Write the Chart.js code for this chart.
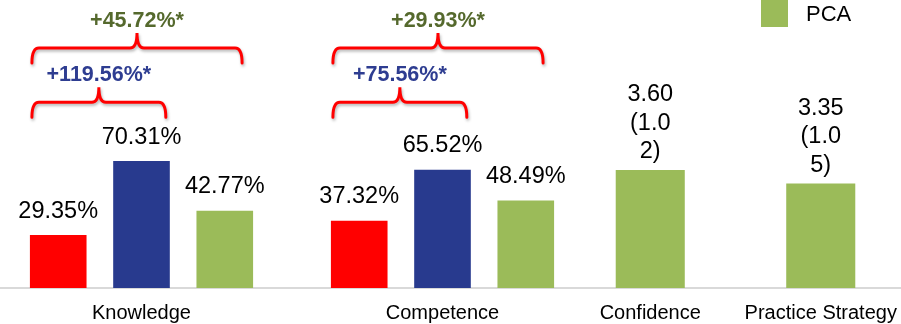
<!DOCTYPE html>
<html>
<head>
<meta charset="utf-8">
<script src="https://cdn.jsdelivr.net/npm/chart.js@4"></script>
<style>
  html, body { margin: 0; padding: 0; background: #fff; }
  #wrap { position: relative; width: 901px; height: 324px; overflow: hidden; }
  #outcomes { position: absolute; left: -9px; top: 0; }
  #likert { position: absolute; left: 565px; top: 0; }
</style>
</head>
<body>
<div id="wrap">
  <canvas id="outcomes" width="602" height="324"></canvas>
  <canvas id="likert" width="341" height="324"></canvas>
</div>
<script>
// percentage outcomes
const outcomeCategories = ['Knowledge', 'Competence'];
const groupAScores = [29.35, 37.32];
const groupBScores = [70.31, 65.52];
const pcaScores = [42.77, 48.49];
const groupBGains = ['+119.56%*', '+75.56%*'];
const pcaGains = ['+45.72%*', '+29.93%*'];

// 5-point scale outcomes, mean (SD)
const likertCategories = ['Confidence', 'Practice Strategy'];
const likertMeans = [3.60, 3.35];
const likertSDs = [1.02, 1.05];

const RED = '#FF0000';
const BLUE = '#283A8E';
const GREEN = '#9BBB59';
const BLUE_TEXT = '#2E3D91';
const GREEN_TEXT = '#55692D';
const FONT = "'Liberation Sans', Arial, sans-serif";

// break a label into lines no wider than maxWidth, splitting words if needed
function wrapText(ctx, text, maxWidth) {
  const lines = [];
  let line = '';
  for (const word of text.split(' ')) {
    const trial = line ? line + ' ' + word : word;
    if (ctx.measureText(trial).width <= maxWidth) {
      line = trial;
      continue;
    }
    if (line) lines.push(line);
    line = '';
    for (const ch of word) {
      if (line && ctx.measureText(line + ch).width > maxWidth) {
        lines.push(line);
        line = '';
      }
      line += ch;
    }
  }
  if (line) lines.push(line);
  return lines;
}

const barValueLabels = {
  id: 'barValueLabels',
  afterDatasetsDraw(chart, args, opts) {
    const ctx = chart.ctx;
    ctx.save();
    ctx.font = `23.5px ${FONT}`;
    ctx.fillStyle = '#000';
    ctx.textAlign = 'center';
    ctx.textBaseline = 'middle';
    chart.data.datasets.forEach((ds, i) => {
      chart.getDatasetMeta(i).data.forEach((bar, j) => {
        const lines = wrapText(ctx, opts.format(ds.data[j], j), opts.maxWidth);
        lines.forEach((line, k) => {
          const y = bar.y - opts.gap - (lines.length - 1 - k) * opts.lineHeight;
          ctx.fillText(line, bar.x, y);
        });
      });
    });
    ctx.restore();
  }
};

function drawBracket(ctx, x1, x2, y, text, color) {
  const mid = (x1 + x2) / 2;
  const r = 7, arm = 15, peak = 15;
  ctx.save();
  ctx.strokeStyle = RED;
  ctx.lineWidth = 3;
  ctx.lineCap = 'round';
  ctx.shadowColor = 'rgba(0,0,0,0.3)';
  ctx.shadowBlur = 3;
  ctx.shadowOffsetX = 1;
  ctx.shadowOffsetY = 2;
  ctx.beginPath();
  ctx.moveTo(x1, y + arm);
  ctx.quadraticCurveTo(x1, y, x1 + r, y);
  ctx.lineTo(mid - r, y);
  ctx.quadraticCurveTo(mid, y, mid, y - peak);
  ctx.quadraticCurveTo(mid, y, mid + r, y);
  ctx.lineTo(x2 - r, y);
  ctx.quadraticCurveTo(x2, y, x2, y + arm);
  ctx.stroke();
  ctx.restore();

  ctx.save();
  ctx.font = `bold 21.5px ${FONT}`;
  ctx.fillStyle = color;
  ctx.textAlign = 'center';
  ctx.textBaseline = 'middle';
  ctx.fillText(text, mid, y - 27);
  ctx.restore();
}

// braces over each group showing the change against the first bar
const gainBrackets = {
  id: 'gainBrackets',
  afterDatasetsDraw(chart, args, opts) {
    const ctx = chart.ctx;
    const yScale = chart.scales.y;
    const a = chart.getDatasetMeta(0).data;
    const b = chart.getDatasetMeta(1).data;
    const p = chart.getDatasetMeta(2).data;
    outcomeCategories.forEach((_, j) => {
      const left = a[j].x - a[j].width / 2 + 2;
      drawBracket(ctx, left, b[j].x + b[j].width / 2 - 4,
        yScale.getPixelForValue(opts.innerLevel), groupBGains[j], BLUE_TEXT);
      drawBracket(ctx, left, p[j].x + p[j].width / 2 - 11,
        yScale.getPixelForValue(opts.outerLevel), pcaGains[j], GREEN_TEXT);
    });
  }
};

const pcaLegend = {
  id: 'pcaLegend',
  afterDraw(chart, args, opts) {
    const ctx = chart.ctx;
    ctx.save();
    ctx.fillStyle = GREEN;
    ctx.fillRect(opts.x, opts.y, opts.size, opts.size);
    ctx.font = `22px ${FONT}`;
    ctx.fillStyle = '#000';
    ctx.textBaseline = 'middle';
    ctx.fillText(chart.data.datasets[0].label, opts.x + opts.size + 18, opts.y + opts.size / 2 + 1);
    ctx.restore();
  }
};

function xAxis(categories) {
  return {
    type: 'category',
    grid: { display: false },
    border: { color: '#d9d9d9', width: 2 },
    ticks: {
      color: '#000',
      font: { family: FONT, size: 20 },
      padding: 5,
      maxRotation: 0,
      autoSkip: false
    },
    afterFit(scale) { scale.height = 36; }
  };
}

new Chart(document.getElementById('outcomes'), {
  type: 'bar',
  data: {
    labels: outcomeCategories,
    datasets: [
      { label: 'Group A', data: groupAScores, backgroundColor: RED },
      { label: 'Group B', data: groupBScores, backgroundColor: BLUE },
      { label: 'PCA', data: pcaScores, backgroundColor: GREEN }
    ]
  },
  options: {
    responsive: false,
    animation: false,
    categoryPercentage: 0.83,
    barPercentage: 0.68,
    layout: { padding: 0 },
    plugins: {
      legend: { display: false },
      tooltip: { enabled: false },
      barValueLabels: { format: v => v.toFixed(2) + '%', maxWidth: Infinity, gap: 24, lineHeight: 28 },
      gainBrackets: { innerLevel: 103, outerLevel: 133 }
    },
    scales: {
      x: xAxis(outcomeCategories),
      y: { display: false, min: 0, max: 159.6 }
    }
  },
  plugins: [barValueLabels, gainBrackets]
});

new Chart(document.getElementById('likert'), {
  type: 'bar',
  data: {
    labels: likertCategories,
    datasets: [
      { label: 'PCA', data: likertMeans, backgroundColor: GREEN }
    ]
  },
  options: {
    responsive: false,
    animation: false,
    categoryPercentage: 0.81,
    barPercentage: 0.5,
    layout: { padding: 0 },
    plugins: {
      legend: { display: false },
      tooltip: { enabled: false },
      barValueLabels: {
        format: (v, j) => `${v.toFixed(2)} (${likertSDs[j].toFixed(2)})`,
        maxWidth: 50, gap: 18, lineHeight: 28.5
      },
      pcaLegend: { x: 196, y: 0, size: 27 }
    },
    scales: {
      x: xAxis(likertCategories),
      y: { display: false, min: 1.4, max: 6.77 }
    }
  },
  plugins: [barValueLabels, pcaLegend]
});
</script>
</body>
</html>
